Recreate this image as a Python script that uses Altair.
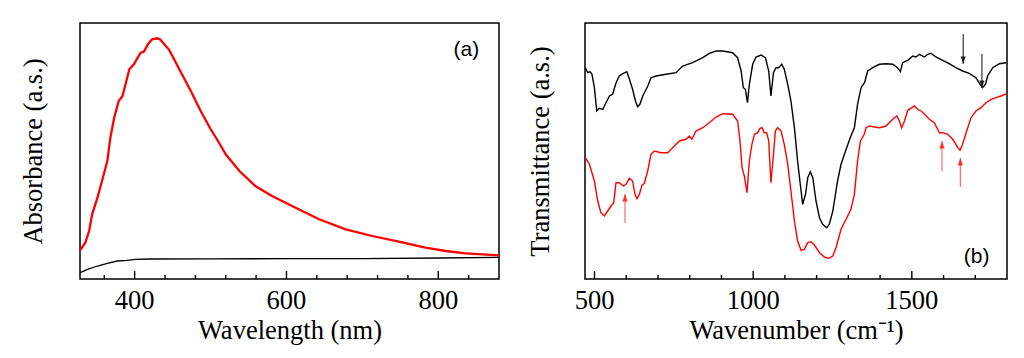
import altair as alt
import pandas as pd

SERIF = "Liberation Serif"
SANS = "Liberation Sans"
FS = 26.5
H = 256
W1, W2 = 419, 422

uv_wavelength = [328, 335, 340, 344, 351, 357, 364, 368, 373, 379,
                 384, 388, 393, 399, 404, 408, 412, 418, 423, 430,
                 434, 441, 445, 452, 460, 474, 487, 500, 509, 520,
                 538, 559, 581, 612, 643, 678, 713, 748, 783, 810,
                 836, 880]
uv_red = [28.7, 36.3, 48, 64.7, 81.3, 98, 118, 141.3, 161.3, 178,
          183, 194.7, 209.7, 214.7, 221.3, 226.3, 227.3, 235.3, 239.7, 240.7,
          239.3, 233, 229.7, 219.7, 208, 188, 168, 150, 139, 124.7,
          108, 93, 83, 71.3, 59.7, 49.7, 43, 37.3, 31.3, 28,
          25.7, 23.7]
uv_black_wavelength = [328, 338, 351, 364, 377, 390, 401, 420, 500, 600, 700, 800, 880]
uv_black = [6.3, 9.7, 13, 15.7, 18, 18.7, 19.7, 20, 20.2, 20.3, 20.4, 21, 21.7]
uv_ticks_major = [400, 600, 800]
uv_ticks_minor = [360, 440, 480, 520, 560, 640, 680, 720, 760, 840]

ir_wn_black = [471, 478.5, 486, 492, 499.6, 507, 515, 526, 536, 547,
               557, 568, 578, 589, 602, 610, 620, 629, 636, 643,
               652, 668, 678, 694, 725, 757, 778, 809, 841, 862,
               883, 904, 935, 951, 962, 969, 975.5, 982, 988, 998.5,
               1009, 1025, 1038.5, 1049, 1056, 1064, 1072, 1080, 1090, 1098,
               1109, 1119, 1130, 1140, 1151, 1156, 1165, 1172, 1180, 1188,
               1198, 1209, 1219, 1232, 1240, 1251, 1266, 1277, 1293, 1308,
               1319, 1329, 1340, 1351, 1361, 1377, 1398, 1419, 1440, 1455,
               1464, 1471, 1487, 1503, 1513, 1524, 1540, 1550, 1560, 1576,
               1597, 1618, 1639, 1660, 1681, 1702, 1715, 1723, 1732, 1739,
               1755, 1776, 1797]
ir_black = [211.3, 206.3, 207.3, 204.7, 191.3, 168, 170.7, 169.7, 176.3, 183,
            184.7, 196.3, 203, 205.3, 207.3, 199.7, 189.7, 178, 172.3, 174.7,
            183, 193, 201.3, 203, 204.7, 206.3, 213, 216.3, 221.3, 225.7,
            228, 228, 226.3, 221.3, 208, 191.3, 189.7, 176.3, 194.7, 214.7,
            222, 224, 221.3, 208, 183, 206.3, 211.3, 211.3, 214.7, 209.7,
            194.7, 178, 151.3, 118, 88, 74.7, 84.7, 101.3, 107.3, 101.3,
            78, 61.3, 54.7, 51.3, 54.7, 68, 98, 114.7, 129.7, 143,
            151.3, 174.7, 191.3, 196.3, 208, 211.3, 214.7, 215.3, 214.7, 211.3,
            207.3, 216.3, 218.7, 223, 222, 224.7, 222, 224.7, 225.7, 222,
            218.7, 215.3, 211.3, 208, 205.7, 201.3, 194.7, 191.3, 194.7, 203,
            211.3, 215.3, 216.3]
ir_wn_red = [471, 484, 499.6, 510, 520, 531, 541.5, 552, 560.5, 567.7,
             578, 591, 599, 610, 620, 627.6, 634, 641.5, 649.6, 657,
             667.6, 678, 689, 709.5, 730.6, 746, 767.5, 788, 799, 807,
             820, 841, 862, 883, 904, 935.5, 951, 958.5, 965, 972,
             980.6, 988, 996, 1004, 1014, 1021.5, 1028, 1035, 1042.6, 1049,
             1056, 1064, 1070, 1077, 1088, 1098, 1109, 1119, 1130, 1140,
             1151, 1161, 1172, 1182, 1193, 1209, 1224.5, 1238, 1251, 1261,
             1277, 1293, 1308, 1319, 1329, 1338, 1350, 1356, 1366, 1382,
             1398, 1419, 1434, 1445, 1453, 1461, 1468, 1477, 1487, 1497,
             1508, 1518.5, 1529, 1540, 1555, 1571, 1587, 1597, 1613, 1629,
             1645, 1652, 1660, 1673, 1686.5, 1702, 1718, 1734, 1750, 1765,
             1781, 1799]
ir_red = [121.3, 114.7, 98, 78, 66.3, 63, 68, 73, 76.3, 96.3,
          96.3, 93, 94.7, 100.7, 98, 84.7, 80.3, 84.7, 93.7, 95.7,
          108, 124.7, 128, 126.3, 126.3, 131.3, 138, 139.7, 143, 139.7,
          148, 151.3, 156.3, 162, 165.3, 164.7, 158, 138, 111.3, 103,
          86.3, 118, 134.7, 144.7, 146.3, 150.7, 151.3, 146.3, 146.3, 138,
          96.3, 124.7, 148, 151.3, 148, 134.7, 114.7, 88, 58, 38,
          28.7, 29.7, 36.3, 37.3, 34, 26.3, 22, 20.7, 23, 31.3,
          49.7, 59.7, 69.7, 84.7, 118, 138, 144.7, 151.3, 153, 152,
          151.3, 153, 158, 161.3, 163, 158, 151.3, 158, 168.7, 170.7,
          173, 169.7, 168, 164.7, 159.7, 156.3, 146.3, 146.3, 144.7, 139.7,
          131.3, 128.7, 134.7, 148, 161.3, 168, 171.3, 176.3, 179.7, 181.3,
          183, 185.3]
ir_ticks_major = [500, 1000, 1500]
ir_ticks_minor = [600, 700, 800, 900, 1100, 1200, 1300, 1400, 1600, 1700]

arrow_black_x = [1662, 1721]
arrow_black_tail = [245, 225]
arrow_black_tip = [215, 191]
arrow_red_x = [596, 1595, 1653]
arrow_red_tail = [56, 108, 92]
arrow_red_tip = [85, 138, 121]

DOWN_HEAD = "M0,0L-1,-3L1,-3Z"
UP_HEAD = "M0,0L-1,3L1,3Z"


def panel(domain, xtitle, ytitle, ytp, width, curves, major, minor, label, label_xy, arrows):
    xs = alt.Scale(domain=domain, nice=False, zero=False)
    ys = alt.Scale(domain=[0, H], nice=False, zero=False)
    x_enc = alt.X("x:Q", scale=xs, axis=alt.Axis(
        title=xtitle, labels=False, ticks=False, domain=False, grid=False,
        titlePadding=38, titleFont=SERIF, titleFontSize=FS,
        titleFontWeight="normal", titleColor="black"))
    y_enc = alt.Y("y:Q", scale=ys, axis=alt.Axis(
        title=ytitle, labels=False, ticks=False, domain=False, grid=False,
        titlePadding=ytp, titleFont=SERIF, titleFontSize=FS,
        titleFontWeight="normal", titleColor="black"))
    layers = []
    for xv, yv, color, sw in curves:
        df = pd.DataFrame({"x": xv, "y": yv})
        layers.append(alt.Chart(df).mark_line(color=color, strokeWidth=sw).encode(x=x_enc, y=y_enc))
    # inward ticks (minor short, major long), positioned through the x and y scales
    layers.append(alt.Chart(pd.DataFrame({"x": minor})).mark_rule(color="black", strokeWidth=1.4)
                  .encode(x=x_enc, y=alt.Y(datum=0, scale=ys), y2=alt.Y2(datum=4)))
    layers.append(alt.Chart(pd.DataFrame({"x": major})).mark_rule(color="black", strokeWidth=1.4)
                  .encode(x=x_enc, y=alt.Y(datum=0, scale=ys), y2=alt.Y2(datum=8)))
    # tick labels
    ldf = pd.DataFrame({"x": major, "t": [str(v) for v in major]})
    layers.append(alt.Chart(ldf).mark_text(font=SERIF, fontSize=FS, color="black",
                                           align="center", baseline="alphabetic")
                  .encode(x=x_enc, y=alt.Y(datum=-30, scale=ys), text="t:N"))
    for ax, tail, tip, lcolor, hcolor, shape in arrows:
        adf = pd.DataFrame({"x": ax, "y": tail, "y2": tip})
        layers.append(alt.Chart(adf).mark_rule(color=lcolor, strokeWidth=1.2)
                      .encode(x=x_enc, y=y_enc, y2="y2:Q"))
        hdf = pd.DataFrame({"x": ax, "y": tip})
        layers.append(alt.Chart(hdf).mark_point(shape=shape, filled=True, size=25, color=hcolor, opacity=1)
                      .encode(x=x_enc, y=y_enc))
    tdf = pd.DataFrame({"x": [label_xy[0]], "y": [label_xy[1]], "t": [label]})
    layers.append(alt.Chart(tdf).mark_text(font=SANS, fontSize=21, color="black", align="center", baseline="middle")
                  .encode(x=x_enc, y=y_enc, text="t:N"))
    return alt.layer(*layers).properties(width=width, height=H)


left = panel([328, 880], "Wavelength (nm)", "Absorbance (a.s.)", 33, W1,
             [(uv_wavelength, uv_red, "#ff0000", 2.3),
              (uv_black_wavelength, uv_black, "#000000", 1.3)],
             uv_ticks_major, uv_ticks_minor, "(a)", (837, 229), [])

right = panel([470, 1800], "Wavenumber (cm⁻¹)", "Transmittance (a.s.)", 31, W2,
              [(ir_wn_black, ir_black, "#000000", 1.4),
               (ir_wn_red, ir_red, "#ff0000", 1.4)],
              ir_ticks_major, ir_ticks_minor, "(b)", (1704, 22),
              [(arrow_black_x, arrow_black_tail, arrow_black_tip, "#333333", "#222222", DOWN_HEAD),
               (arrow_red_x, arrow_red_tail, arrow_red_tip, "#ff6666", "#ff2a2a", UP_HEAD)])

chart = alt.hconcat(left, right, spacing=21).properties(
    padding={"left": 11, "top": 14, "right": 4, "bottom": 4},
    background="white",
).configure_view(stroke="black", strokeWidth=1.5)

chart.save("out.html", embed_options={"renderer": "svg", "actions": False})
